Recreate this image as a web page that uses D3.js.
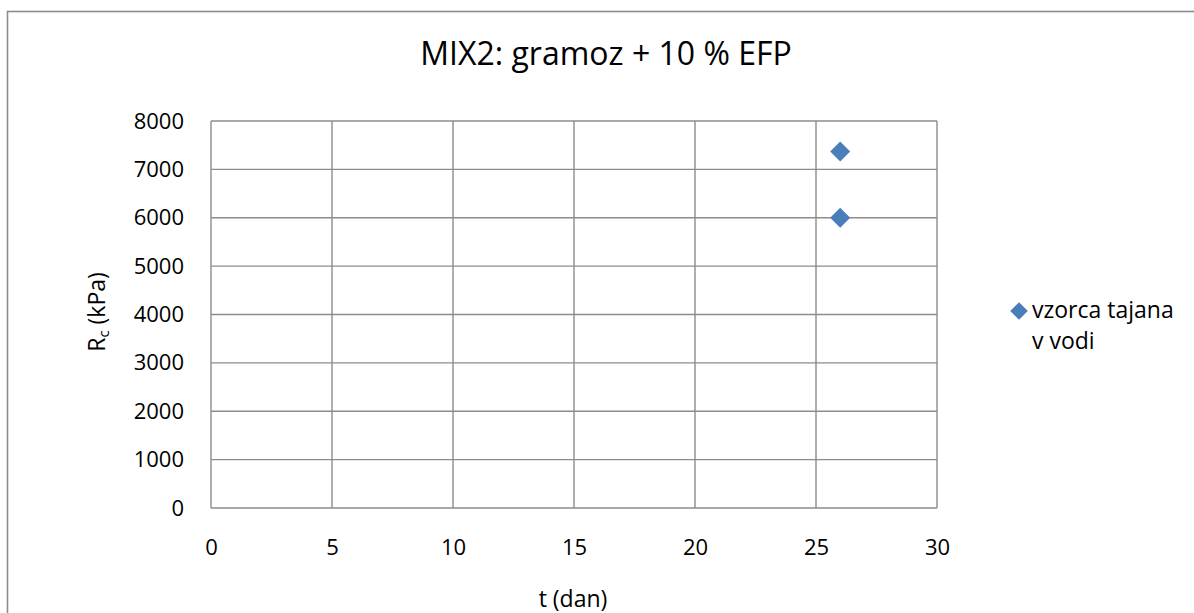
<!DOCTYPE html>
<html>
<head>
<meta charset="utf-8">
<script src="https://cdn.jsdelivr.net/npm/d3@7"></script>
<style>
  html, body { margin: 0; padding: 0; background: #fff; }
  svg { display: block; }
  text { font-family: "Open Sans", Lato, sans-serif; fill: #000; }
</style>
</head>
<body>
<svg id="chart" width="1194" height="613"></svg>
<script>
// Compressive strength of MIX2 samples soaked in water
const title = "MIX2: gramoz + 10 % EFP";
const seriesName = ["vzorca tajana", "v vodi"];
const days = [26, 26];
const strength = [7370, 6000];
const xTicks = [0, 5, 10, 15, 20, 25, 30];
const yTicks = [0, 1000, 2000, 3000, 4000, 5000, 6000, 7000, 8000];

const svg = d3.select("#chart");
const W = 1194, H = 613;
const plot = { left: 211, top: 121, right: 937, bottom: 508 };
const gridColor = "#8c8c8c";
const markColor = "#4a7ebb";
const FONT = "'Open Sans', Lato, sans-serif";

// outer chart frame
svg.append("rect")
  .attr("x", 7.5).attr("y", 11.5)
  .attr("width", W + 20).attr("height", H + 20)
  .attr("fill", "#fff").attr("stroke", "#8c8c8c").attr("stroke-width", 1.6);

const x = d3.scaleLinear().domain([0, 30]).range([plot.left, plot.right]);
const y = d3.scaleLinear().domain([0, 8000]).range([plot.bottom, plot.top]);

// grid lines
const g = svg.append("g");
g.selectAll("line.h").data(yTicks).join("line")
  .attr("x1", plot.left).attr("x2", plot.right)
  .attr("y1", d => y(d)).attr("y2", d => y(d))
  .attr("stroke", gridColor).attr("stroke-width", 1.4);
g.selectAll("line.v").data(xTicks).join("line")
  .attr("y1", plot.top).attr("y2", plot.bottom)
  .attr("x1", d => x(d)).attr("x2", d => x(d))
  .attr("stroke", gridColor).attr("stroke-width", 1.4);

// axes (labels only, lines drawn as grid)
const yAxis = svg.append("g")
  .attr("transform", `translate(${plot.left},0)`)
  .call(d3.axisLeft(y).tickValues(yTicks).tickFormat(d3.format("d")).tickSize(0).tickPadding(27));
yAxis.select(".domain").remove();
yAxis.selectAll("text").style("font-size", "22px").style("font-family", FONT).attr("fill", "#000");

const xAxis = svg.append("g")
  .attr("transform", `translate(0,${plot.bottom})`)
  .call(d3.axisBottom(x).tickValues(xTicks).tickFormat(d3.format("d")).tickSize(0).tickPadding(31));
xAxis.select(".domain").remove();
xAxis.selectAll("text").style("font-size", "22px").style("font-family", FONT).attr("fill", "#000");

// title
svg.append("text")
  .attr("x", 606).attr("y", 65)
  .attr("text-anchor", "middle")
  .style("font-size", "32px")
  .text(title);

// axis titles
svg.append("text")
  .attr("x", 573).attr("y", 607)
  .attr("text-anchor", "middle")
  .style("font-size", "23px")
  .text("t (dan)");

const yt = svg.append("text")
  .attr("transform", `translate(105,312) rotate(-90)`)
  .attr("text-anchor", "middle")
  .style("font-size", "23px");
yt.append("tspan").text("R");
yt.append("tspan").attr("dy", 4).style("font-size", "15px").text("c");
yt.append("tspan").attr("dy", -4).text(" (kPa)");

// data points
const diamond = d3.symbol().type(d3.symbolSquare).size(200);
svg.selectAll("path.pt").data(days.map((d, i) => [d, strength[i]])).join("path")
  .attr("class", "pt")
  .attr("d", diamond)
  .attr("transform", d => `translate(${x(d[0])},${y(d[1])}) rotate(45)`)
  .attr("fill", markColor);

// legend
const lg = svg.append("g").attr("transform", "translate(1019,311)");
lg.append("path")
  .attr("d", d3.symbol().type(d3.symbolSquare).size(156))
  .attr("transform", "rotate(45)")
  .attr("fill", markColor);
lg.selectAll("text").data(seriesName).join("text")
  .attr("x", 13).attr("y", (d, i) => 7 + i * 31)
  .style("font-size", "23px")
  .text(d => d);
</script>
</body>
</html>
